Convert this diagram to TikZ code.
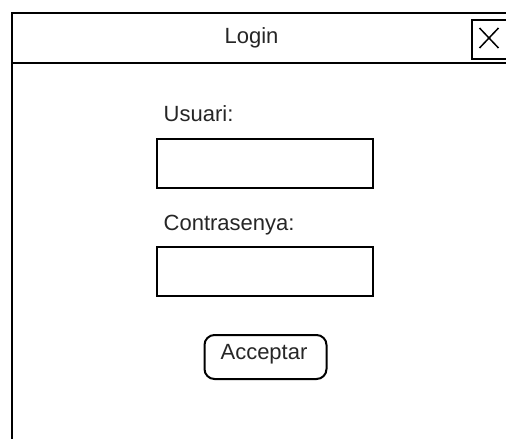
\documentclass[tikz,border=0pt]{standalone}
\usepackage{fontspec}
\setmainfont{Liberation Sans}
\begin{document}
\begin{tikzpicture}[x=1pt,y=-1pt,
  frame/.style={draw=black,line width=2pt},
  lbl/.style={font=\fontsize{22}{26}\selectfont,text=black!85,inner sep=0pt}]
\useasboundingbox (0,0) rectangle (506,439);
\clip (0,0) rectangle (506,439);
\fill[white] (0,0) rectangle (506,439);
% window frame and title bar
\draw[frame] (11.5,13) rectangle (530,470);
\draw[frame] (11.5,63) -- (530,63);
\node[lbl,anchor=base] (title) at (251.5,43) {Login};
% close button
\node[frame,minimum width=36pt,minimum height=39pt,inner sep=0pt,anchor=north west] (close) at (470.5,19) {};
\draw[line width=1.5pt] (479.5,28) -- (498.5,48) (498.5,28) -- (479.5,48);
% fields
\node[lbl,anchor=base west] (ulbl) at (163.5,121) {Usuari:};
\node[frame,minimum width=216pt,minimum height=49pt,inner sep=0pt,anchor=north west] (ubox) at (156,137.5) {};
\node[lbl,anchor=base west] (plbl) at (163.5,230) {Contrasenya:};
\node[frame,minimum width=216pt,minimum height=49pt,inner sep=0pt,anchor=north west] (pbox) at (156,245.5) {};
% button
\node[frame,rounded corners=10pt,minimum width=122pt,minimum height=44pt,inner sep=0pt,anchor=north west] (btn) at (203.5,334) {};
\node[lbl,anchor=base] (btntext) at (264,359) {Acceptar};
\end{tikzpicture}
\end{document}
